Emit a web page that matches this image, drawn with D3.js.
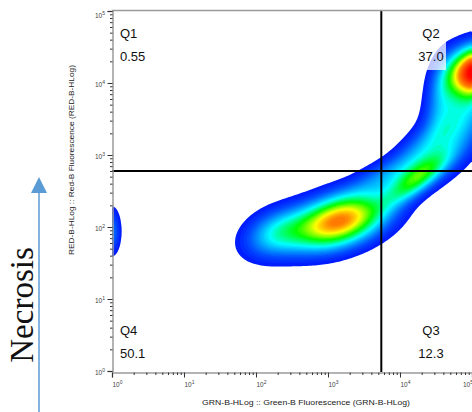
<!DOCTYPE html>
<html lang="en">
<head>
    <meta charset="utf-8">
    <title>Necrosis quadrant plot</title>
    <script src="https://d3js.org/d3.v7.min.js"></script>
    <style type="text/css">
        body { margin: 0; background: #fff; }
        svg { display: block; }
    </style>
</head>
<body>
<script type="text/javascript">
// data (log10 decades)
var decades = [0, 1, 2, 3, 4, 5];
var quadNames = ["Q1", "Q2", "Q3", "Q4"];
var quadPct = ["0.55", "37.0", "12.3", "50.1"];
var gateX = 5500, gateY = 600;

// cell populations: centre, spread, tilt and peak height
var popX   = [3.15, 2.30, 4.25, 4.30, 5.05, 4.85, 0.00, 3.75, 4.58];
var popY   = [2.08, 1.92, 2.68, 3.05, 4.17, 3.55, 1.94, 2.70, 3.85];
var popSX  = [0.42, 0.30, 0.30, 0.35, 0.24, 0.30, 0.08, 0.30, 0.15];
var popSY  = [0.25, 0.22, 0.24, 0.32, 0.22, 0.45, 0.21, 0.18, 0.35];
var popRho = [0.40, 0.30, 0.78, 0.75, 0.20, 0.50, 0.00, 0.60, 0.30];
var popAmp = [1.00, 0.33, 0.55, 0.24, 1.30, 0.30, 0.20, 0.15, 0.18];

var W = 472, H = 412;
var pLeft = 112, pRight = 472, pTop = 11, pBottom = 371;

var svg = d3.select("body").append("svg")
    .attr("width", W).attr("height", H);

var x = d3.scaleLog().domain([1, 1e5]).range([pLeft, pRight]);
var y = d3.scaleLog().domain([1, 1e5]).range([pBottom, pTop]);

// density grid
var n = 180;
var grid = new Array(n * n);
for (var j = 0; j < n; j++) {
    for (var i = 0; i < n; i++) {
        var gx = (i + 0.5) * 5 / n, gy = 5 - (j + 0.5) * 5 / n;
        var v = 0;
        for (var k = 0; k < popX.length; k++) {
            var dx = (gx - popX[k]) / popSX[k], dy = (gy - popY[k]) / popSY[k];
            var r = popRho[k];
            var q = (dx * dx - 2 * r * dx * dy + dy * dy) / (1 - r * r);
            v += popAmp[k] * Math.exp(-q / 2);
        }
        grid[j * n + i] = v;
    }
}
var vmax = d3.max(grid);
var thresholds = d3.range(0.05, vmax, (vmax - 0.05) / 50);

var color = d3.scaleLinear()
    .domain([0, 0.1, 0.27, 0.42, 0.58, 0.7, 0.95])
    .range(["#0000ff", "#0050ff", "#00ffff", "#00ff00", "#ffff00", "#ff8000", "#ff0000"])
    .clamp(true);

var proj = d3.geoTransform({
    point: function (gx, gy) {
        this.stream.point(x(Math.pow(10, gx * 5 / n)), y(Math.pow(10, 5 - gy * 5 / n)));
    }
});
var path = d3.geoPath(proj);

svg.append("clipPath").attr("id", "plot")
    .append("rect").attr("x", pLeft).attr("y", pTop)
    .attr("width", pRight - pLeft).attr("height", pBottom - pTop);

svg.append("g").attr("clip-path", "url(#plot)")
    .selectAll("path")
    .data(d3.contours().size([n, n]).thresholds(thresholds)(grid))
    .enter().append("path")
    .attr("d", path)
    .attr("fill", function (d) { return color(d.value / vmax); })
    .attr("stroke", "none");

// quadrant gates
svg.append("line")
    .attr("x1", pLeft).attr("x2", pRight)
    .attr("y1", y(gateY)).attr("y2", y(gateY))
    .attr("stroke", "#000").attr("stroke-width", 2);
svg.append("line")
    .attr("x1", x(gateX)).attr("x2", x(gateX))
    .attr("y1", pTop).attr("y2", pBottom + 1)
    .attr("stroke", "#000").attr("stroke-width", 2);

// frame + axes
var grey = "#9a9a9a";
svg.append("line").attr("x1", pLeft).attr("x2", pRight)
    .attr("y1", pTop - 0.5).attr("y2", pTop - 0.5)
    .attr("stroke", grey).attr("stroke-width", 1.5);

var minors = [];
decades.slice(0, 5).forEach(function (e) {
    for (var m = 2; m < 10; m++) minors.push(m * Math.pow(10, e));
});
var majors = decades.map(function (e) { return Math.pow(10, e); });

var yAxis = svg.append("g").attr("transform", "translate(" + (pLeft + 0.5) + ",0)");
yAxis.call(d3.axisLeft(y).tickValues(majors).tickSize(5).tickFormat(""));
yAxis.append("g").call(d3.axisLeft(y).tickValues(minors).tickSize(2.5).tickFormat(""))
    .select(".domain").remove();
yAxis.selectAll(".tick line").attr("stroke", "#333");
yAxis.select(".domain").attr("stroke", grey).attr("stroke-width", 1.5);

var xAxis = svg.append("g").attr("transform", "translate(0," + (pBottom + 1.5) + ")");
xAxis.call(d3.axisBottom(x).tickValues(majors).tickSize(5).tickFormat(""));
xAxis.append("g").call(d3.axisBottom(x).tickValues(minors).tickSize(2.5).tickFormat(""))
    .select(".domain").remove();
xAxis.selectAll(".tick line").attr("stroke", "#333");
xAxis.select(".domain").attr("stroke", grey).attr("stroke-width", 1.5);

// tick labels 10^n
function powLabel(g, px, py, e, anchor) {
    var t = g.append("text").attr("x", px).attr("y", py)
        .attr("text-anchor", anchor)
        .attr("font-family", "Liberation Sans, Arial, sans-serif")
        .attr("font-size", "6.5px").attr("fill", "#444");
    t.append("tspan").text("10");
    t.append("tspan").attr("dy", -3.5).attr("font-size", "5px").text(e);
}
decades.forEach(function (e) {
    powLabel(svg, pLeft - 17, Math.max(y(Math.pow(10, e)) + 4, 18), e, "start");
    powLabel(svg, Math.min(x(Math.pow(10, e)) + 0.5, 463), 387, e, "start");
});

// axis titles
svg.append("text")
    .attr("x", 306).attr("y", 405)
    .attr("text-anchor", "middle")
    .attr("font-family", "Liberation Sans, Arial, sans-serif")
    .attr("font-size", "7.5px").attr("fill", "#222")
    .attr("textLength", 208).attr("lengthAdjust", "spacingAndGlyphs")
    .text("GRN-B-HLog :: Green-B Fluorescence (GRN-B-HLog)");
svg.append("text")
    .attr("transform", "translate(74,160) rotate(-90)")
    .attr("text-anchor", "middle")
    .attr("font-family", "Liberation Sans, Arial, sans-serif")
    .attr("font-size", "7.5px").attr("fill", "#222")
    .attr("textLength", 190).attr("lengthAdjust", "spacingAndGlyphs")
    .text("RED-B-HLog :: Red-B Fluorescence (RED-B-HLog)");

// quadrant labels
var qx = [120, 431, 431, 120], qy = [38, 38, 335, 335];
var qa = ["start", "middle", "middle", "start"];
// Q2 label box sits over the density
svg.append("rect").attr("x", 413).attr("y", 22).attr("width", 33).attr("height", 48)
    .attr("fill", "#fff").attr("fill-opacity", 0.75);
quadNames.forEach(function (q, i) {
    var g = svg.append("g").attr("font-family", "Liberation Sans, Arial, sans-serif")
        .attr("font-size", "13px").attr("fill", "#111").attr("text-anchor", qa[i]);
    g.append("text").attr("x", qx[i]).attr("y", qy[i]).text(q);
    g.append("text").attr("x", qx[i]).attr("y", qy[i] + 23).text(quadPct[i]);
});

// Necrosis arrow
var blue = "#5b9bd5";
svg.append("line").attr("x1", 39).attr("x2", 39).attr("y1", 412).attr("y2", 190)
    .attr("stroke", blue).attr("stroke-width", 1.5);
svg.append("path").attr("d", "M39,177L31,193L47,193Z").attr("fill", blue);
svg.append("text")
    .attr("transform", "translate(33,305) rotate(-90)")
    .attr("text-anchor", "middle")
    .attr("font-family", "Liberation Serif, Times New Roman, serif")
    .attr("font-size", "33px").attr("fill", "#111")
    .text("Necrosis");
</script>
</body>
</html>
